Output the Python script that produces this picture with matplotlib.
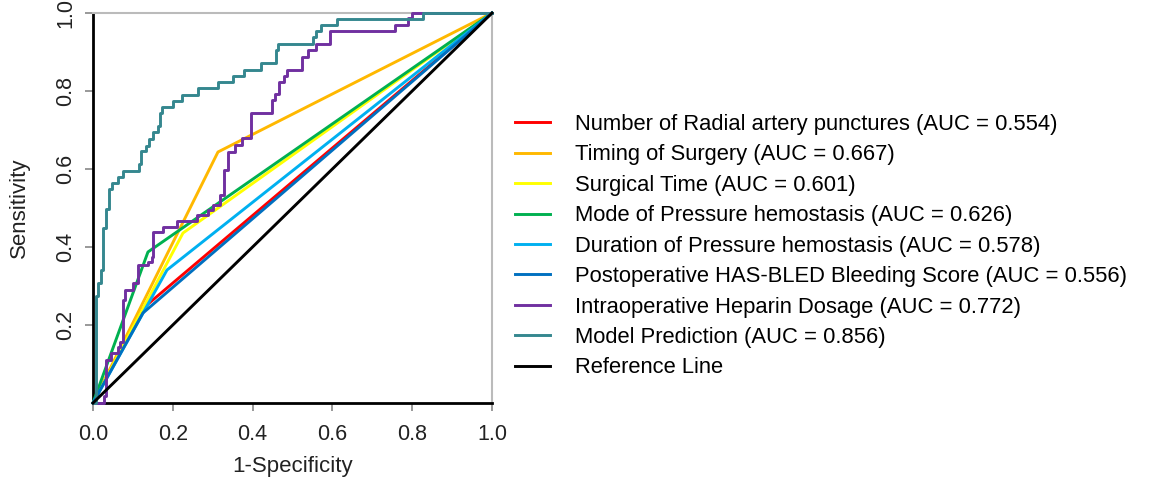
import matplotlib
matplotlib.use("Agg")
import matplotlib.pyplot as plt

plt.rcParams['font.family'] = ['Liberation Sans', 'DejaVu Sans']

# ROC curves (1-specificity, sensitivity)
labels = [
    "Number of Radial artery punctures (AUC = 0.554)",
    "Timing of Surgery (AUC = 0.667)",
    "Surgical Time (AUC = 0.601)",
    "Mode of Pressure hemostasis (AUC = 0.626)",
    "Duration of Pressure hemostasis (AUC = 0.578)",
    "Postoperative HAS-BLED Bleeding Score (AUC = 0.556)",
    "Intraoperative Heparin Dosage (AUC = 0.772)",
    "Model Prediction (AUC = 0.856)",
    "Reference Line",
]
colors = ["#FF0000", "#FFB800", "#FFFF00", "#00B050", "#00B0F0",
          "#0070C0", "#7030A0", "#35878F", "#000000"]

punct_fpr = [0, 0.1203, 1]
punct_tpr = [0, 0.2385, 1]
timing_fpr = [0, 0.3133, 1]
timing_tpr = [0, 0.6436, 1]
surgtime_fpr = [0, 0.2256, 1]
surgtime_tpr = [0, 0.4359, 1]
mode_fpr = [0, 0.1378, 1]
mode_tpr = [0, 0.3872, 1]
duration_fpr = [0, 0.1855, 1]
duration_tpr = [0, 0.3410, 1]
hasbled_fpr = [0, 0.1253, 1]
hasbled_tpr = [0, 0.2308, 1]

heparin_fpr = [0, 0.0276, 0.0326, 0.0459, 0.0619, 0.0677, 0.0744, 0.0802, 0.1010, 0.1135,
               0.1386, 0.1471, 0.1516, 0.1762, 0.2098, 0.2599, 0.2890, 0.3015, 0.3183, 0.3283,
               0.3391, 0.3559, 0.3734, 0.3955, 0.4479, 0.4561, 0.4674, 0.4787, 0.4855, 0.5231,
               0.5396, 0.5589, 0.5940, 0.7561, 0.7895, 0.7987, 1.0]
heparin_tpr = [0, 0.0179, 0.1103, 0.1274, 0.1444, 0.1564, 0.2641, 0.2897, 0.3069, 0.3538,
               0.3628, 0.3751, 0.4372, 0.4513, 0.4679, 0.4821, 0.4949, 0.5077, 0.5321, 0.5974,
               0.6444, 0.6603, 0.6787, 0.7428, 0.7769, 0.7915, 0.8218, 0.8385, 0.8551, 0.8879,
               0.9051, 0.9200, 0.9533, 0.9700, 0.9859, 1.0, 1.0]

model_fpr = [0, 0.0075, 0.0138, 0.0201, 0.0258, 0.0338, 0.0414, 0.0486, 0.0637, 0.0759,
             0.1158, 0.1200, 0.1341, 0.1401, 0.1496, 0.1634, 0.1674, 0.1724, 0.2005, 0.2223,
             0.2639, 0.3140, 0.3521, 0.3784, 0.4223, 0.4599, 0.4637, 0.5514, 0.5602, 0.5727,
             0.6108, 0.8278, 1.0]
model_tpr = [0, 0.2744, 0.3077, 0.3410, 0.4487, 0.4974, 0.5487, 0.5649, 0.5803, 0.5959,
             0.6121, 0.6472, 0.6600, 0.6782, 0.6944, 0.7103, 0.7428, 0.7582, 0.7744, 0.7910,
             0.8069, 0.8238, 0.8397, 0.8544, 0.8726, 0.9051, 0.9200, 0.9372, 0.9538, 0.9700,
             0.9854, 1.0, 1.0]

ref_fpr = [0, 1]
ref_tpr = [0, 1]

curves = [(punct_fpr, punct_tpr), (timing_fpr, timing_tpr), (surgtime_fpr, surgtime_tpr),
          (mode_fpr, mode_tpr), (duration_fpr, duration_tpr), (hasbled_fpr, hasbled_tpr),
          (heparin_fpr, heparin_tpr), (model_fpr, model_tpr), (ref_fpr, ref_tpr)]
stepped = [False, False, False, False, False, False, True, True, False]

fig = plt.figure(figsize=(11.62, 4.83), dpi=100)
ax = fig.add_axes([0.080, 0.1656, 0.3434, 0.8075])

for (fx, ty), lab, col, st in zip(curves, labels, colors, stepped):
    ax.plot(fx, ty, color=col, lw=2.1, label=lab, clip_on=False,
            drawstyle='steps-post' if st else 'default', zorder=3)

ax.set_xlim(0, 1)
ax.set_ylim(0, 1)
ax.set_xticks([0.0, 0.2, 0.4, 0.6, 0.8, 1.0])
ax.set_yticks([0.2, 0.4, 0.6, 0.8, 1.0])
ax.set_xticklabels(["0.0", "0.2", "0.4", "0.6", "0.8", "1.0"])
ax.set_yticklabels(["0.2", "0.4", "0.6", "0.8", "1.0"], rotation=90, va='center')

for s in ['left', 'bottom']:
    ax.spines[s].set_color('black')
    ax.spines[s].set_linewidth(2)
for s in ['top', 'right']:
    ax.spines[s].set_color('#BBBBBB')
    ax.spines[s].set_linewidth(1.5)

ax.tick_params(axis='both', length=6, width=1.2, color='#888888', labelsize=15.5,
               labelcolor='#222222')
ax.tick_params(axis='x', pad=9)
ax.tick_params(axis='y', pad=6)
ax.set_xlabel("1-Specificity", fontsize=16, color='#222222', labelpad=8)
ax.set_ylabel("Sensitivity", fontsize=16, color='#222222', labelpad=18)

fig.legend(loc='upper left', bbox_to_anchor=(0.4432, 0.764), frameon=False,
           fontsize=15.8, handlelength=1.6, handletextpad=1.15, labelspacing=0.43,
           borderpad=0, borderaxespad=0)

fig.savefig("out.png", dpi=100)
